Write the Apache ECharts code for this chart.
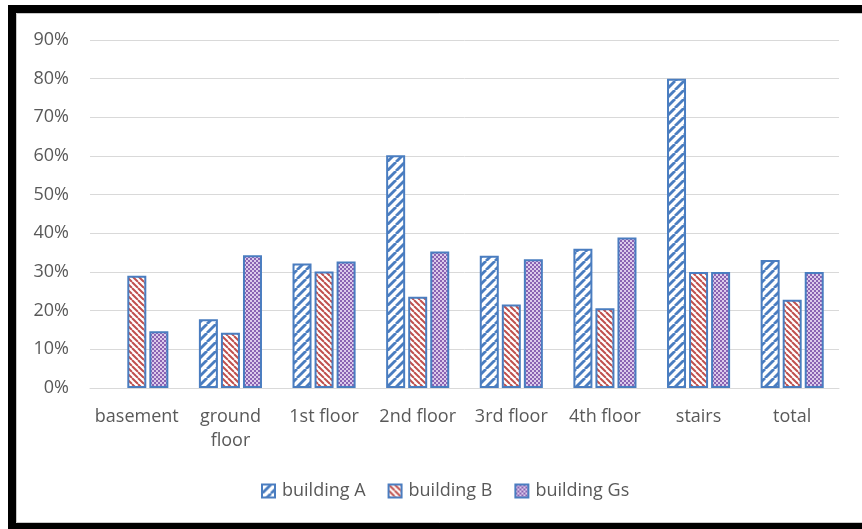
<!DOCTYPE html>
<html>
<head>
<meta charset="utf-8">
<script src="https://cdn.jsdelivr.net/npm/echarts@6/dist/echarts.min.js"></script>
<style>
  html, body { margin: 0; padding: 0; background: #fff; }
  #chart { width: 862px; height: 529px; }
</style>
</head>
<body>
<div id="chart"></div>
<script>
// Share of each floor, per building (percent)
const categories = ['basement', 'ground floor', '1st floor', '2nd floor', '3rd floor', '4th floor', 'stairs', 'total'];
const buildingA  = [null, 17.8, 32.2, 60.2, 34.2, 36.0, 80.0, 33.1];
const buildingB  = [29.0, 14.3, 30.1, 23.6, 21.6, 20.6, 30.0, 22.8];
const buildingGs = [14.7, 34.3, 32.7, 35.3, 33.3, 38.9, 30.0, 30.0];
const seriesNames = ['building A', 'building B', 'building Gs'];
const yTicks = { min: 0, max: 90, interval: 10 };

const BORDER = '#4a7dc0';

function tile(size, draw) {
  const c = document.createElement('canvas');
  c.width = size; c.height = size;
  const g = c.getContext('2d');
  draw(g, size);
  return { image: c, repeat: 'repeat' };
}

// wide blue forward-slash stripes
const patA = tile(9, (g, s) => {
  g.fillStyle = '#ffffff'; g.fillRect(0, 0, s, s);
  g.strokeStyle = BORDER; g.lineWidth = 2.8;
  for (const o of [-s, 0, s]) {
    g.beginPath(); g.moveTo(o, s); g.lineTo(o + s, 0); g.stroke();
  }
});
// thin red back-slash stripes
const patB = tile(6, (g, s) => {
  g.fillStyle = '#ffffff'; g.fillRect(0, 0, s, s);
  g.strokeStyle = '#c0504d'; g.lineWidth = 2;
  for (const o of [-s, 0, s]) {
    g.beginPath(); g.moveTo(o, 0); g.lineTo(o + s, s); g.stroke();
  }
});
// purple dotted lattice
const patG = tile(4, (g, s) => {
  g.fillStyle = '#dccbeb'; g.fillRect(0, 0, s, s);
  g.fillStyle = '#8a63b3';
  g.fillRect(0, 0, 2, 2);
  g.fillRect(2, 2, 2, 2);
});

const chart = echarts.init(document.getElementById('chart'), null, { renderer: 'canvas' });

const FONT = 'Open Sans';
const mk = (name, data, pat) => ({
  name, type: 'bar', data,
  barWidth: 19, barGap: '16%',
  itemStyle: { color: pat, borderColor: BORDER, borderWidth: 2 },
  emphasis: { disabled: true }
});

chart.setOption({
  animation: false,
  backgroundColor: '#ffffff',
  graphic: [
    { type: 'rect', shape: { x: 12, y: 9, width: 880, height: 518 },
      style: { fill: 'none', stroke: '#000', lineWidth: 8 }, z: 100 },
    { type: 'rect', shape: { x: 16.5, y: 13.5, width: 880, height: 509 },
      style: { fill: 'none', stroke: '#c8c8c8', lineWidth: 1 }, z: 100 }
  ],
  grid: { left: 90, right: 23, top: 40, bottom: 141 },
  legend: {
    data: seriesNames,
    top: 477, left: 256,
    icon: 'rect', itemWidth: 13, itemHeight: 13, itemGap: 22,
    textStyle: { fontFamily: FONT, fontSize: 18, color: '#595959', padding: [0, 0, 0, 2] }
  },
  xAxis: {
    type: 'category', data: categories,
    axisLine: { lineStyle: { color: '#d9d9d9', width: 1 } },
    axisTick: { show: false },
    axisLabel: {
      fontFamily: FONT, fontSize: 18, color: '#595959', margin: 17, lineHeight: 24,
      interval: 0,
      formatter: v => v.replace(' floor', v.startsWith('ground') ? '\nfloor' : ' floor')
    }
  },
  yAxis: {
    type: 'value', min: yTicks.min, max: yTicks.max, interval: yTicks.interval,
    axisLabel: { fontFamily: FONT, fontSize: 18, color: '#595959', margin: 21, formatter: '{value}%' },
    splitLine: { lineStyle: { color: '#d9d9d9', width: 1 } },
    axisLine: { show: false }, axisTick: { show: false }
  },
  series: [
    mk(seriesNames[0], buildingA, patA),
    mk(seriesNames[1], buildingB, patB),
    mk(seriesNames[2], buildingGs, patG)
  ]
});
</script>
</body>
</html>
